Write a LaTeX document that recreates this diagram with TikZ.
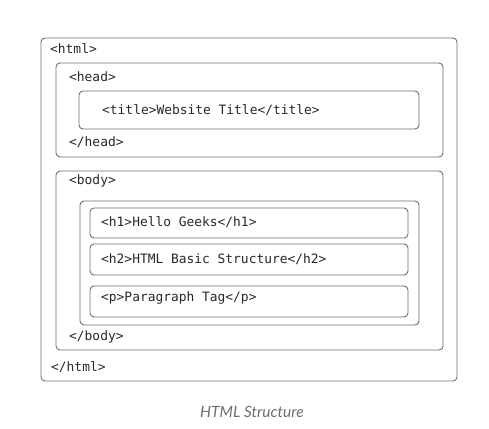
\documentclass[tikz,border=0pt]{standalone}
\usepackage{fontspec}
\setmonofont{DejaVu Sans Mono}
\newfontfamily\captionfont{Lato}
\usepackage{xcolor}
\definecolor{boxgray}{RGB}{110,110,110}
\definecolor{tagtext}{RGB}{40,40,40}
\definecolor{capgray}{RGB}{110,110,110}

\tikzset{
  tagbox/.style={draw=boxgray, line width=0.9pt, rounded corners=4pt},
  tag/.style={anchor=west, inner sep=0pt, text=tagtext, font=\ttfamily\fontsize{12.9}{14}\selectfont}
}

\begin{document}
\begin{tikzpicture}[x=1pt,y=-1pt]
  \useasboundingbox (0,0) rectangle (489,428);

%boxes:
  \draw[tagbox] (41,38) rectangle (457,381);   % html
  \draw[tagbox] (56,63) rectangle (443,157);   % head
  \draw[tagbox] (79,91) rectangle (419,129);   % title
  \draw[tagbox] (56,171) rectangle (443,350);  % body
  \draw[tagbox] (80,201) rectangle (419,325);  % body content
  \draw[tagbox] (90,208) rectangle (408,238);  % h1
  \draw[tagbox] (90,244) rectangle (408,275);  % h2
  \draw[tagbox] (90,286) rectangle (408,317);  % p
%%%%%%

  \node[tag] (htmlopen) at (50,49) {<html>};
  \node[tag] (headopen) at (69,77) {<head>};
  \node[tag] (title) at (102,110) {<title>Website Title</title>};
  \node[tag] (headclose) at (69,142) {</head>};
  \node[tag] (bodyopen) at (69,181) {<body>};
  \node[tag] (hone) at (101,222) {<h1>Hello Geeks</h1>};
  \node[tag] (htwo) at (101,259) {<h2>HTML Basic Structure</h2>};
  \node[tag] (para) at (101,298) {<p>Paragraph Tag</p>};
  \node[tag] (bodyclose) at (69,337) {</body>};
  \node[tag] (htmlclose) at (51,367) {</html>};

  \node[text=capgray, font=\captionfont\itshape\fontsize{15.5}{18}\selectfont] (caption) at (252,412) {HTML Structure};
\end{tikzpicture}
\end{document}
